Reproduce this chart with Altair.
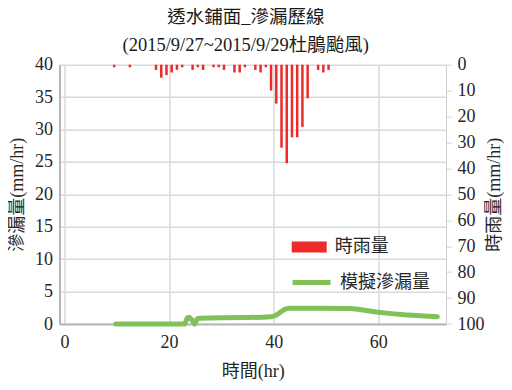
import altair as alt
import pandas as pd

# ---- data ----
rain_t = [9.5, 12.5, 17.5, 18.5, 19.5, 20.5, 21.5, 22.5, 24.5, 25.5, 26.5, 28.5, 29.5,
          30.5, 32.5, 33.5, 34.5, 36.5, 37.5, 38.5, 39.5, 40.5, 41.5, 42.5, 43.5, 44.5,
          45.5, 46.5, 48.5, 49.5, 50.5]
rain_mm = [1, 1, 2, 5, 4, 3, 2, 1, 2, 1, 2, 1, 1,
           2, 3, 3, 1, 2, 3, 1, 10, 15, 32, 38, 28, 28,
           24, 13, 2, 3, 2]

seep_t = [9.8, 15, 20, 23.0, 23.5, 23.9, 24.4, 24.9, 25.4, 26, 30, 35, 38, 39.5,
          40.3, 41.0, 41.6, 42.2, 42.8, 48, 54.8, 56.5, 58, 60, 62.5, 65, 68, 71.3]
seep_v = [0, 0, 0, 0, 0.95, 1.0, 0.6, 0.0, 0.8, 0.9, 0.95, 1.0, 1.05, 1.1,
          1.3, 1.65, 2.0, 2.3, 2.42, 2.42, 2.4, 2.25, 2.05, 1.8, 1.6, 1.42, 1.28, 1.13]

x_ticks = [0, 20, 40, 60]
left_ticks = [0, 5, 10, 15, 20, 25, 30, 35, 40]
right_ticks = [0, 10, 20, 30, 40, 50, 60, 70, 80, 90, 100]

rain_name = "時雨量"
seep_name = "模擬滲漏量"
title_lines = ["透水鋪面_滲漏歷線", "(2015/9/27~2015/9/29杜鵑颱風)"]

RED = "#EE2B2B"
GREEN = "#80C15A"
FONT = "Liberation Serif, Times New Roman, Noto Sans CJK TC, serif"

W, H = 386.5, 259.3

df_rain = pd.DataFrame({"t": rain_t, "rain": rain_mm, "series": rain_name})
df_seep = pd.DataFrame({"t": seep_t, "seep": seep_v, "series": seep_name})

xscale = alt.Scale(domain=[0, 72], nice=False, zero=False)


def xaxis():
    return alt.Axis(values=x_ticks, grid=True, gridColor="#D9D9D9", gridWidth=1.5,
                    domainColor="#B5B5B5", domainWidth=2, tickSize=0, labelPadding=9,
                    labelFontSize=18, title="時間(hr)", titleFontSize=18,
                    titleFontWeight="normal", titleY=47.5, titleBaseline="middle")


bars = alt.Chart(df_rain).mark_bar(size=2.5, orient="vertical").encode(
    x=alt.X("t:Q", scale=xscale, axis=xaxis()),
    y=alt.Y("rain:Q", scale=alt.Scale(domain=[0, 100], reverse=True, nice=False),
            axis=alt.Axis(orient="right", values=right_ticks, grid=False, tickSize=5,
                          tickColor="#CFCFCF", domainColor="#CFCFCF", domainWidth=1,
                          labelPadding=6, labelFontSize=18, title="時雨量(mm/hr)",
                          titleFontSize=18, titleFontWeight="normal", titleAngle=270,
                          titleBaseline="middle", titleX=48.5, titleY=H / 2)),
    fill=alt.Fill("series:N", scale=alt.Scale(domain=[rain_name], range=[RED]),
                  legend=alt.Legend(title=None, orient="none", legendX=232.2, legendY=164.8,
                                    symbolType="M-1,-0.314H1V0.314H-1Z", symbolSize=1225,
                                    symbolStrokeWidth=0, labelFontSize=18, labelOffset=8,
                                    padding=0)),
)

line = alt.Chart(df_seep).mark_line(strokeWidth=5, strokeCap="round", strokeJoin="round").encode(
    x=alt.X("t:Q", scale=xscale, axis=xaxis()),
    y=alt.Y("seep:Q", scale=alt.Scale(domain=[0, 40], nice=False),
            axis=alt.Axis(orient="left", values=left_ticks, grid=True, gridColor="#D9D9D9",
                          gridWidth=1.5, tickSize=0, domainColor="#B5B5B5", domainWidth=2,
                          labelPadding=7, labelFontSize=18, title="滲漏量(mm/hr)",
                          titleFontSize=18, titleFontWeight="normal", titleAngle=270,
                          titleBaseline="middle", titleX=-42.5, titleY=H / 2)),
    stroke=alt.Stroke("series:N", scale=alt.Scale(domain=[seep_name], range=[GREEN]),
                      legend=alt.Legend(title=None, orient="none", legendX=230.5, legendY=196.3,
                                        symbolType="stroke", symbolSize=1444,
                                        symbolStrokeWidth=5, labelFontSize=18, labelOffset=7,
                                        padding=0)),
)

chart = alt.layer(bars, line).resolve_scale(
    y="independent", fill="independent", stroke="independent"
).properties(
    width=W, height=H,
    title=alt.TitleParams(text=title_lines, font=FONT, fontSize=18.5, fontWeight="normal",
                          color="#1a1a1a", lineHeight=28, anchor="middle", dx=-7, offset=1),
    autosize=alt.AutoSizeParams(type="none"),
    padding={"left": 51.5, "top": 56.7, "right": 58, "bottom": 57},
).configure_view(stroke=None).configure_axis(
    labelFont=FONT, titleFont=FONT, labelColor="#262626", titleColor="#262626"
).configure_legend(labelFont=FONT, labelColor="#262626")

chart.save("out.html", embed_options={"renderer": "svg", "actions": False})
